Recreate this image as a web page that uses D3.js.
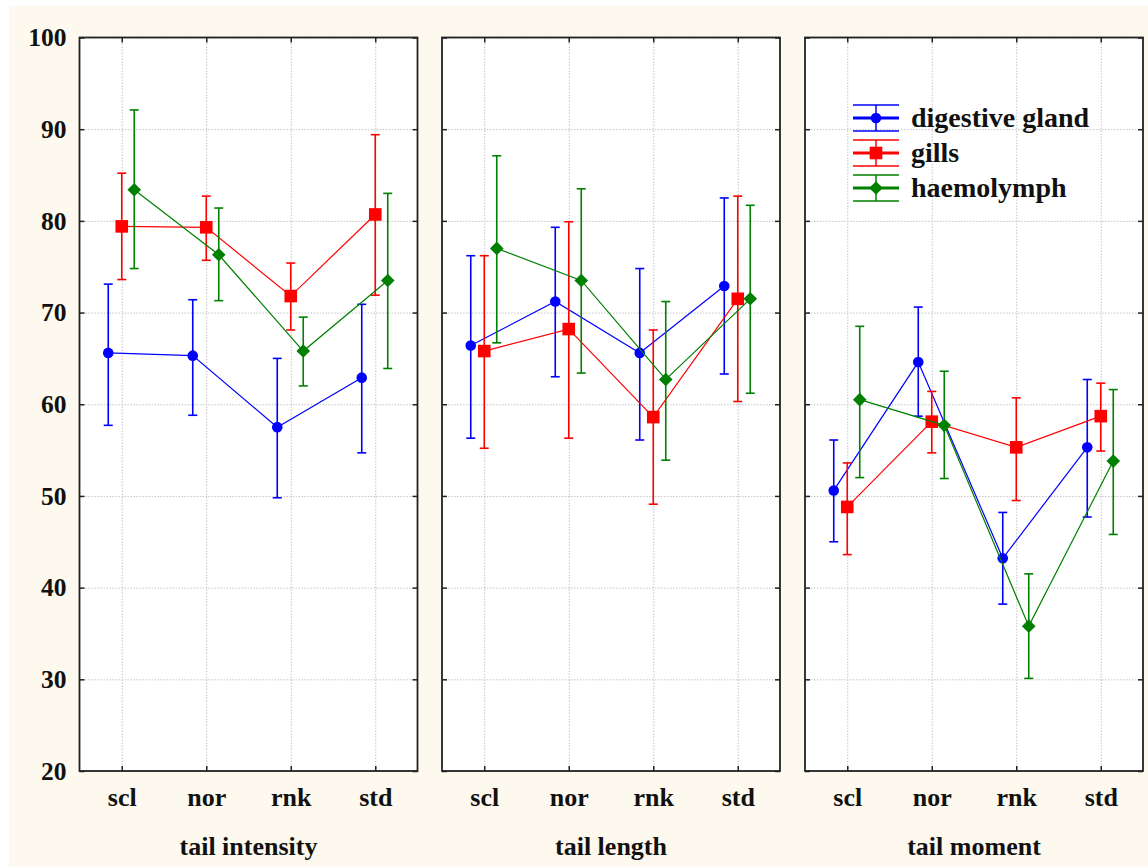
<!DOCTYPE html>
<html>
<head>
<meta charset="utf-8">
<script src="https://cdn.jsdelivr.net/npm/d3@7/dist/d3.min.js"></script>
<style>
  html, body { margin: 0; padding: 0; background: #ffffff; }
  svg { display: block; }
  text { font-family: "Liberation Serif", "Times New Roman", serif; font-weight: bold; fill: #111; }
</style>
</head>
<body>
<script>
// ---------- data ----------
const categories = ["scl", "nor", "rnk", "std"];
const panelTitles = ["tail intensity", "tail length", "tail moment"];
const seriesNames = ["digestive gland", "gills", "haemolymph"];
const yTicks = [20, 30, 40, 50, 60, 70, 80, 90, 100];

// rows = panels (tail intensity, tail length, tail moment), columns = categories
const digestiveMean = [[65.6, 65.3, 57.5, 62.9], [66.4, 71.2, 65.6, 72.9], [50.6, 64.6, 43.2, 55.3]];
const digestiveHigh = [[73.1, 71.4, 65.0, 70.9], [76.2, 79.3, 74.8, 82.5], [56.1, 70.6, 48.2, 62.7]];
const digestiveLow  = [[57.7, 58.8, 49.8, 54.7], [56.3, 63.0, 56.1, 63.3], [45.0, 58.7, 38.2, 47.7]];

const gillsMean = [[79.4, 79.3, 71.8, 80.7], [65.8, 68.2, 58.6, 71.5], [48.8, 58.1, 55.3, 58.7]];
const gillsHigh = [[85.2, 82.7, 75.4, 89.4], [76.2, 79.9, 68.1, 82.7], [53.6, 61.4, 60.7, 62.3]];
const gillsLow  = [[73.6, 75.7, 68.1, 71.9], [55.2, 56.3, 49.1, 60.3], [43.6, 54.7, 49.5, 54.9]];

const haemoMean = [[83.4, 76.3, 65.8, 73.5], [77.0, 73.5, 62.7, 71.5], [60.5, 57.7, 35.8, 53.8]];
const haemoHigh = [[92.1, 81.4, 69.5, 83.0], [87.1, 83.5, 71.2, 81.7], [68.5, 63.6, 41.5, 61.6]];
const haemoLow  = [[74.8, 71.3, 62.0, 63.9], [66.7, 63.4, 53.9, 61.2], [52.0, 51.9, 30.1, 45.8]];

// ---------- styling / layout ----------
const W = 1148, H = 867;
const seriesDefs = [
  { name: seriesNames[0], mean: digestiveMean, hi: digestiveHigh, lo: digestiveLow, color: "#0000ff", shape: "circle", dx: -13.5 },
  { name: seriesNames[1], mean: gillsMean, hi: gillsHigh, lo: gillsLow, color: "#ff0000", shape: "square", dx: 0 },
  { name: seriesNames[2], mean: haemoMean, hi: haemoHigh, lo: haemoLow, color: "#008000", shape: "diamond", dx: 12.5 }
];
const panelLefts = [79.5, 442, 805];
const panelW = 338;
const plotTop = 37.5, plotBottom = 771;

const svg = d3.select("body").append("svg").attr("width", W).attr("height", H);
svg.append("rect").attr("x", 9).attr("y", 6).attr("width", W - 9).attr("height", H - 6).attr("fill", "#fef9ee");

const y = d3.scaleLinear().domain([20, 100]).range([plotBottom, plotTop]);
const x = d3.scalePoint().domain(categories).range([0, panelW]).padding(0.5);

function marker(g, shape, color, cx, cy) {
  if (shape === "circle") {
    g.append("circle").attr("cx", cx).attr("cy", cy).attr("r", 5.3).attr("fill", color);
  } else if (shape === "square") {
    g.append("rect").attr("x", cx - 6.3).attr("y", cy - 6.3).attr("width", 12.6).attr("height", 12.6).attr("fill", color);
  } else {
    g.append("path").attr("d", `M${cx},${cy - 6.8}L${cx + 6.8},${cy}L${cx},${cy + 6.8}L${cx - 6.8},${cy}Z`).attr("fill", color);
  }
}

panelTitles.forEach((title, p) => {
  const g = svg.append("g").attr("transform", `translate(${panelLefts[p]},0)`);
  g.append("rect").attr("x", 0).attr("y", plotTop).attr("width", panelW).attr("height", plotBottom - plotTop).attr("fill", "#ffffff");

  // grid
  const gy = g.append("g").call(d3.axisLeft(y).tickValues(yTicks).tickSize(-panelW).tickFormat(""));
  gy.select(".domain").remove();
  gy.selectAll("line").attr("stroke", "#c4c4c4").attr("stroke-dasharray", "1.5,1.5");
  const gx = g.append("g").attr("transform", `translate(0,${plotBottom})`).call(d3.axisBottom(x).tickSize(-(plotBottom - plotTop)).tickFormat(""));
  gx.select(".domain").remove();
  gx.selectAll("line").attr("stroke", "#c4c4c4").attr("stroke-dasharray", "1.5,1.5");

  // inward ticks
  const tl = g.append("g").call(d3.axisLeft(y).tickValues(yTicks).tickSize(-5).tickFormat(""));
  const tr = g.append("g").attr("transform", `translate(${panelW},0)`).call(d3.axisRight(y).tickValues(yTicks).tickSize(-5).tickFormat(""));
  const tb = g.append("g").attr("transform", `translate(0,${plotBottom})`).call(d3.axisBottom(x).tickSize(-5).tickFormat(""));
  const tt = g.append("g").attr("transform", `translate(0,${plotTop})`).call(d3.axisTop(x).tickSize(-5).tickFormat(""));
  [tl, tr, tb, tt].forEach(a => { a.select(".domain").remove(); a.selectAll("line").attr("stroke", "#222").attr("stroke-width", 1.5); });

  // category labels
  const cl = g.append("g").attr("transform", `translate(0,${plotBottom})`).call(d3.axisBottom(x).tickSize(0).tickPadding(0));
  cl.select(".domain").remove();
  cl.selectAll("text").attr("y", 35).attr("dy", null).attr("font-size", 26)
    .style("font-family", "'Liberation Serif', serif").style("font-weight", "bold").attr("fill", "#111");

  // y labels on the first panel
  if (p === 0) {
    const yl = g.append("g").call(d3.axisLeft(y).tickValues(yTicks).tickSize(0).tickPadding(13));
    yl.select(".domain").remove();
    yl.selectAll("text").attr("font-size", 25.5)
      .style("font-family", "'Liberation Serif', serif").style("font-weight", "bold").attr("fill", "#111");
  }

  // title
  g.append("text").attr("x", panelW / 2).attr("y", 855).attr("text-anchor", "middle").attr("font-size", 26).text(title);

  // series
  seriesDefs.forEach(s => {
    const sg = g.append("g");
    const pts = categories.map((c, i) => ({ cx: x(c) + s.dx, m: s.mean[p][i], hi: s.hi[p][i], lo: s.lo[p][i] }));
    sg.append("path").attr("d", d3.line().x(d => d.cx).y(d => y(d.m))(pts))
      .attr("fill", "none").attr("stroke", s.color).attr("stroke-width", 1.2);
    pts.forEach(d => {
      sg.append("line").attr("x1", d.cx).attr("x2", d.cx).attr("y1", y(d.hi)).attr("y2", y(d.lo)).attr("stroke", s.color).attr("stroke-width", 1.6);
      [d.hi, d.lo].forEach(v => {
        sg.append("line").attr("x1", d.cx - 4.5).attr("x2", d.cx + 4.5).attr("y1", y(v)).attr("y2", y(v)).attr("stroke", s.color).attr("stroke-width", 1.6);
      });
      marker(sg, s.shape, s.color, d.cx, y(d.m));
    });
  });

  // frame
  g.append("rect").attr("x", 0).attr("y", plotTop).attr("width", panelW).attr("height", plotBottom - plotTop)
    .attr("fill", "none").attr("stroke", "#222").attr("stroke-width", 1.8);

  // legend in last panel
  if (p === 2) {
    const lx = 876 - panelLefts[2];
    seriesDefs.forEach((s, i) => {
      const cy = 118 + i * 35;
      const lg = g.append("g");
      lg.append("line").attr("x1", lx - 23).attr("x2", lx + 23).attr("y1", cy).attr("y2", cy).attr("stroke", s.color).attr("stroke-width", 3);
      lg.append("line").attr("x1", lx).attr("x2", lx).attr("y1", cy - 13).attr("y2", cy + 13).attr("stroke", s.color).attr("stroke-width", 1.5);
      [cy - 13, cy + 13].forEach(v => lg.append("line").attr("x1", lx - 23).attr("x2", lx + 23).attr("y1", v).attr("y2", v).attr("stroke", s.color).attr("stroke-width", 1.3));
      marker(lg, s.shape, s.color, lx, cy);
      lg.append("text").attr("x", 911 - panelLefts[2]).attr("y", cy).attr("dy", "0.32em").attr("font-size", 28).text(s.name);
    });
  }
});
</script>
</body>
</html>
